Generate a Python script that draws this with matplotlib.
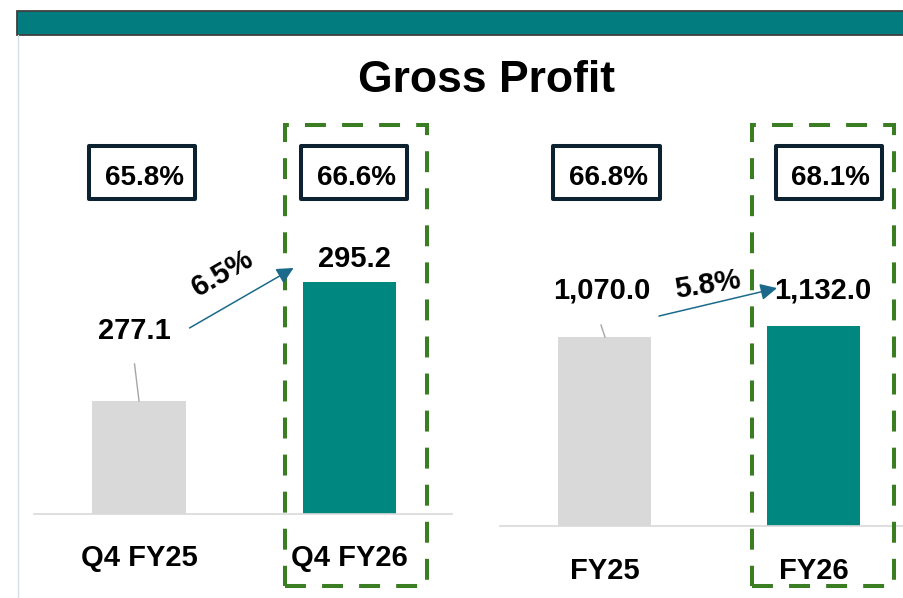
import matplotlib
matplotlib.use('Agg')
import matplotlib.pyplot as plt
import matplotlib.transforms as mtransforms
from matplotlib.patches import Rectangle, FancyArrowPatch
from matplotlib.lines import Line2D

plt.rcParams['font.family'] = ['Liberation Sans', 'DejaVu Sans']

# data
quarter_labels = ['Q4 FY25', 'Q4 FY26']
quarter_values = [277.1, 295.2]
quarter_margins = ['65.8%', '66.6%']

year_labels = ['FY25', 'FY26']
year_values = [1070.0, 1132.0]
year_margins = ['66.8%', '68.1%']

TEAL = '#00877F'
HEADER = '#037C80'
GREY = '#D9D9D9'
ARROW = '#1B6A8C'
GREEN = '#3B7D23'
NAVY = '#0D2231'

W, H = 904, 598
PX = 100 / 72  # px per pt
ident = mtransforms.IdentityTransform()

fig = plt.figure(figsize=(W / 100, H / 100), dpi=100)


def fx(px):
    return px / W


def fy(py):
    return 1 - py / H


def cap_text(x, y, s, size, **kw):
    # place text so the middle of the capitals sits on (x, y) display px
    fig.text(x, y - 0.358 * size * PX, s, fontsize=size, fontweight='bold',
             ha='center', va='baseline', transform=ident, **kw)


# header band and left rule
fig.patches.append(Rectangle((17, H - 35), 900, 24, transform=ident,
                             facecolor=HEADER, edgecolor='#3F3F3F', lw=1.3))
fig.lines.append(Line2D([17.5, 17.5], [0, H - 35], transform=ident,
                        color='#D3DEE5', lw=1.0))
fig.text(fx(487), fy(80), 'Gross Profit', fontsize=32, fontweight='bold',
         ha='center', va='center')

ax_q = fig.add_axes([fx(34), fy(513.5), fx(452) - fx(34), fy(40) - fy(513.5)])
ax_y = fig.add_axes([fx(500), fy(526), fx(904) - fx(500), fy(40) - fy(526)])
ax_q.set_xlim(-0.5, 1.49)
ax_q.set_ylim(260.05, 331.8)
ax_y.set_xlim(-0.5, 1.433)
ax_y.set_ylim(0, 2752)

panels = [
    dict(ax=ax_q, labels=quarter_labels, values=quarter_values, margins=quarter_margins,
         val_off=[(-5, 72), (5.5, 24.6)], leader=((-4.5, 37), (0, 0)),
         arr_a=(50.5, 73), arr_b=(-55.5, 13.6), g_off=(-19, 25), g_rot=30,
         box_x=[(-50, 56), (-48, 58)], green_x=(-64.5, 77.5)),
    dict(ax=ax_y, labels=year_labels, values=year_values, margins=year_margins,
         val_off=[(-2.5, 49), (9, 38)], leader=((-3.5, 12), (0.5, 0)),
         arr_a=(54.5, 21), arr_b=(-36.5, 38), g_off=(-10, 17), g_rot=9,
         box_x=[(-52, 55), (-38, 68)], green_x=(-61.5, 80.5)),
]

for p in panels:
    ax = p['ax']
    vals = p['values']
    x = range(len(vals))
    ax.bar(x, vals, width=0.443, color=[GREY, TEAL], zorder=2)
    for s in ['top', 'left', 'right']:
        ax.spines[s].set_visible(False)
    ax.spines['bottom'].set_color(GREY)
    ax.spines['bottom'].set_linewidth(1.2)
    ax.set_yticks([])
    ax.set_xticks(list(x))
    ax.set_xticklabels(p['labels'], fontsize=21, fontweight='bold')
    ax.tick_params(axis='x', length=0, pad=22)
    ax.patch.set_visible(False)

    tops = [ax.transData.transform((i, v)) for i, v in enumerate(vals)]

    # value labels
    for (tx, ty), v, (dx, dy) in zip(tops, vals, p['val_off']):
        cap_text(tx + dx, ty + dy, f'{v:,.1f}', 21)

    # leader line on the first bar
    (lx0, ly0), (lx1, ly1) = p['leader']
    fig.lines.append(Line2D([tops[0][0] + lx0, tops[0][0] + lx1],
                            [tops[0][1] + ly0, tops[0][1] + ly1],
                            transform=ident, color='#A6A6A6', lw=1.0))

    # growth arrow
    a = (tops[0][0] + p['arr_a'][0], tops[0][1] + p['arr_a'][1])
    b = (tops[1][0] + p['arr_b'][0], tops[1][1] + p['arr_b'][1])
    fig.patches.append(FancyArrowPatch(a, b, transform=ident,
                                       arrowstyle='-|>,head_length=0.5,head_width=0.25',
                                       mutation_scale=20, color=ARROW, lw=1.1,
                                       shrinkA=0, shrinkB=0, zorder=6))
    growth = (vals[1] / vals[0] - 1) * 100
    mx = (a[0] + b[0]) / 2 + p['g_off'][0]
    my = (a[1] + b[1]) / 2 + p['g_off'][1]
    fig.text(mx, my, f'{growth:.1f}%', fontsize=21, fontweight='bold',
             ha='center', va='center', rotation=p['g_rot'],
             rotation_mode='anchor', transform=ident)

    # margin boxes
    for (tx, ty), m, (bx0, bx1) in zip(tops, p['margins'], p['box_x']):
        fig.patches.append(Rectangle((tx + bx0, H - 199), bx1 - bx0, 53,
                                     transform=ident, facecolor='white',
                                     edgecolor=NAVY, lw=2.9, joinstyle='round'))
        cap_text(tx + (bx0 + bx1) / 2 + 2, H - 175, m, 20)

    # dashed highlight around the current period
    gx0, gx1 = p['green_x']
    fig.patches.append(Rectangle((tops[1][0] + gx0, H - 586), gx1 - gx0, 461.5,
                                 transform=ident, fill=False, edgecolor=GREEN,
                                 lw=2.9, linestyle=(0, (5.2, 4.0)), zorder=5))

fig.savefig('out.png', dpi=100)
